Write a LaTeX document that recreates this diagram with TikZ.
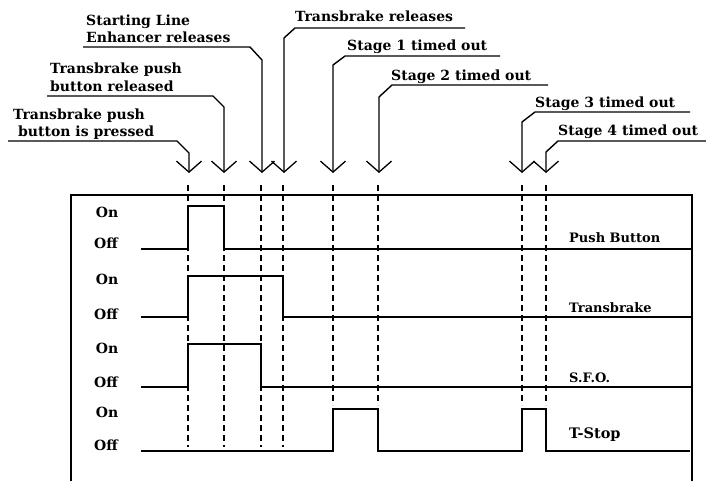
\documentclass[tikz,border=0pt]{standalone}
\usepackage{fontspec}
\setmainfont{DejaVu Serif}
\usetikzlibrary{arrows.meta}
\begin{document}
\begin{tikzpicture}[x=1pt,y=-1pt,
  lbl/.style={font=\fontsize{14}{17}\selectfont\bfseries, inner sep=0pt, anchor=base west},
  signame/.style={font=\fontsize{13}{16}\selectfont\bfseries, inner sep=0pt, anchor=base west},
  onoff/.style={font=\fontsize{14}{16}\selectfont\bfseries, inner sep=0pt, anchor=base},
  sig/.style={line width=1.4pt, line join=miter},
  leader/.style={line width=1.4pt, line join=miter, -{Straight Barb[length=11pt,width=25pt,line width=1.3pt]}},
  guide/.style={line width=1.3pt, dash pattern=on 6pt off 4pt},
  frame/.style={line width=1.2pt}]
\useasboundingbox (0,0) rectangle (706,481);
% frame
\draw[frame] (71,481) -- (71,195) -- (692,195) -- (692,481);
% dashed guides
\foreach \x/\e in {188/447,224/447,261/447,283/447,333/405,378/405,522/405,546/405}
  \draw[guide] (\x,185) -- (\x,\e);
% signals
\draw[sig] (141,249) -- (188,249) -- (188,206) -- (224,206) -- (224,249) -- (692,249);
\draw[sig] (141,317) -- (188,317) -- (188,276) -- (283,276) -- (283,317) -- (692,317);
\draw[sig] (141,387) -- (188,387) -- (188,344) -- (261,344) -- (261,387) -- (692,387);
\draw[sig] (141,451) -- (333,451) -- (333,409) -- (378,409) -- (378,451) -- (522,451) -- (522,409) -- (546,409) -- (546,451) -- (690,451);
% event points
\coordinate (e1) at (189,173);
\coordinate (e2) at (224,173);
\coordinate (e3) at (262,173);
\coordinate (e4) at (284,173);
\coordinate (e5) at (333,173);
\coordinate (e6) at (379,173);
\coordinate (e7) at (522,173);
\coordinate (e8) at (546,173);
% leaders
\draw[leader] (8,141) -- (177,141) -- (189,153) -- (e1);
\draw[leader] (47,96) -- (213,96) -- (224,107) -- (e2);
\draw[leader] (83,47) -- (250,47) -- (262,60) -- (e3);
\draw[leader] (465,28) -- (295,28) -- (284,38) -- (e4);
\draw[leader] (500,56) -- (345,56) -- (333,65) -- (e5);
\draw[leader] (548,85) -- (392,85) -- (379,97) -- (e6);
\draw[leader] (690,112) -- (535,112) -- (522,122) -- (e7);
\draw[leader] (706,141) -- (558,141) -- (546,152) -- (e8);
% leader labels
\node[lbl] (l1a) at (13,120) {Transbrake push};
\node[lbl] (l1b) at (18,137) {button is pressed};
\node[lbl] (l2a) at (50,74) {Transbrake push};
\node[lbl] (l2b) at (50,92) {button released};
\node[lbl] (l3a) at (86,26) {Starting Line};
\node[lbl] (l3b) at (86,43) {Enhancer releases};
\node[lbl] (l4) at (295,22) {Transbrake releases};
\node[lbl] (l5) at (347,51) {Stage 1 timed out};
\node[lbl] (l6) at (391,81) {Stage 2 timed out};
\node[lbl] (l7) at (535,108) {Stage 3 timed out};
\node[lbl] (l8) at (558,136) {Stage 4 timed out};
% on/off labels
\node[onoff] (on1) at (107,217) {On};
\node[onoff] (off1) at (106,248) {Off};
\node[onoff] (on2) at (107,284) {On};
\node[onoff] (off2) at (106,319) {Off};
\node[onoff] (on3) at (107,353) {On};
\node[onoff] (off3) at (106,387) {Off};
\node[onoff] (on4) at (107,417) {On};
\node[onoff] (off4) at (106,450) {Off};
% signal names
\node[signame] (n1) at (569,242) {Push Button};
\node[signame] (n2) at (569,312) {Transbrake};
\node[signame] (n3) at (569,382) {S.F.O.};
\node[signame, font=\fontsize{14.5}{17}\selectfont\bfseries] (n4) at (569,438) {T-Stop};
\end{tikzpicture}
\end{document}
